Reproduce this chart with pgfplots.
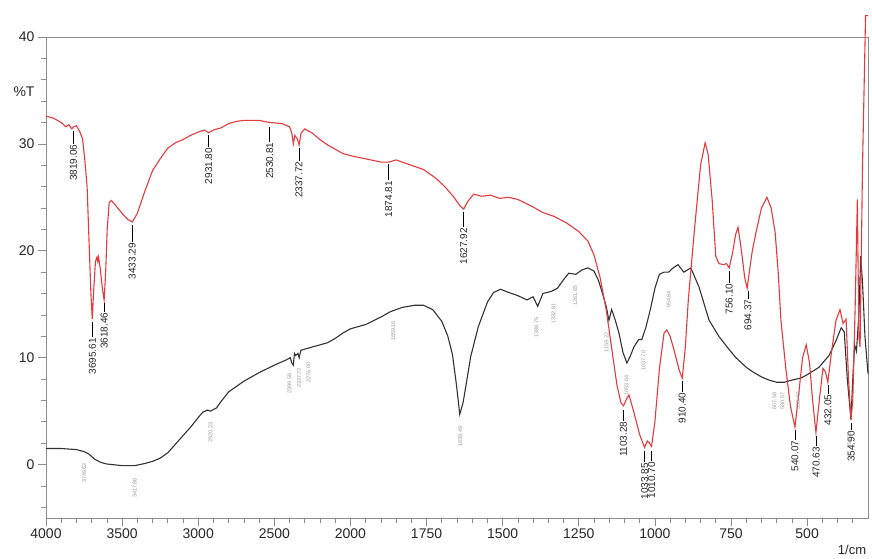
\documentclass[border=0pt]{standalone}
\usepackage{fontspec}
\setmainfont{Liberation Sans}
\usepackage{pgfplots}
\usepackage{pgfplotstable}
\pgfplotsset{compat=1.18}
\definecolor{redc}{RGB}{228,58,62}
\definecolor{blk}{RGB}{50,50,50}
\definecolor{frm}{RGB}{140,140,140}

\pgfplotstableread{
w T
4000 32.6
3950 32.4
3900 32.0
3870 31.6
3850 31.8
3830 31.4
3819 31.6
3800 31.7
3780 31.2
3760 30.5
3745 28.5
3730 26.0
3715 20.0
3705 16.0
3696 13.6
3688 16.0
3675 19.0
3665 19.4
3660 19.0
3655 19.4
3645 18.5
3630 16.5
3618 15.4
3608 18.0
3598 22.0
3585 24.5
3570 24.7
3540 24.2
3500 23.5
3460 22.9
3433 22.7
3400 23.5
3350 25.6
3300 27.5
3250 28.6
3200 29.6
3150 30.1
3100 30.4
3050 30.8
3000 31.1
2960 31.3
2931 31.05
2900 31.3
2850 31.5
2800 31.9
2750 32.1
2700 32.2
2600 32.2
2530 32.0
2450 31.9
2400 31.6
2385 31.0
2375 30.0
2365 30.8
2350 30.5
2337 29.9
2325 31.0
2300 31.4
2250 31.0
2200 30.4
2150 29.9
2100 29.5
2050 29.1
2000 28.9
1950 28.6
1900 28.3
1874 28.3
1850 28.5
1800 28.0
1760 27.6
1720 26.8
1690 26.0
1660 25.0
1640 24.2
1628 23.9
1615 24.6
1595 25.3
1570 25.1
1540 25.2
1510 24.9
1480 25.0
1450 24.8
1400 24.1
1370 23.6
1330 23.2
1290 22.6
1250 21.8
1220 20.9
1200 19.6
1180 17.5
1160 14.5
1140 10.5
1125 7.5
1112 5.8
1103 5.5
1092 6.2
1085 6.5
1070 5.0
1050 2.8
1034 1.6
1025 2.2
1018 2.0
1011 1.7
1000 4.0
985 9.0
970 12.3
961 12.6
950 12.0
935 10.5
920 8.8
910 8.1
900 11.0
890 15.5
870 22.0
850 28.0
835 30.1
825 29.0
812 24.8
800 19.5
790 18.8
775 18.7
765 18.8
756 18.4
745 19.8
735 21.5
727 22.2
718 20.5
705 17.5
697 16.5
690 18.0
680 20.0
668 21.7
650 24.0
632 25.0
618 24.0
605 21.7
595 18.0
586 13.5
570 9.0
555 5.5
540 3.5
528 6.5
515 10.0
503 11.2
492 9.5
482 6.0
471 3.0
460 6.0
448 9.0
440 8.7
432 7.7
420 10.5
405 13.5
392 14.5
382 13.2
372 13.6
364 8.0
356 4.2
350 6.0
342 15.0
335 24.8
330 12.0
326 11.0
318 28.0
308 42.0
300 42.0
}\redtab

\pgfplotstableread{
w T
4000 1.5
3900 1.5
3800 1.4
3748 1.2
3720 1.0
3680 0.5
3640 0.2
3600 0.05
3500 -0.1
3417 -0.1
3350 0.1
3300 0.3
3250 0.6
3200 1.1
3150 1.9
3100 2.7
3050 3.5
3000 4.4
2970 4.9
2940 5.1
2920 5.0
2880 5.3
2850 5.9
2800 6.8
2750 7.3
2700 7.8
2650 8.2
2600 8.6
2500 9.3
2420 9.8
2395 10.0
2385 9.5
2375 9.3
2368 10.4
2360 10.2
2345 10.4
2337 10.0
2325 10.7
2300 10.8
2250 11.0
2200 11.2
2150 11.4
2100 11.8
2050 12.3
2000 12.7
1950 13.1
1900 13.8
1869 14.3
1830 14.7
1790 14.9
1760 14.9
1730 14.5
1700 13.4
1680 12.0
1665 10.3
1652 7.5
1641 4.7
1630 5.8
1620 7.5
1605 10.1
1580 12.9
1550 15.2
1530 16.1
1507 16.4
1480 16.1
1450 15.8
1420 15.4
1400 15.7
1385 14.8
1368 16.0
1340 16.2
1320 16.5
1300 17.3
1283 17.9
1260 17.8
1240 18.2
1220 18.4
1200 18.1
1185 17.2
1170 15.8
1160 14.8
1151 13.5
1142 14.5
1130 13.5
1118 12.3
1105 10.5
1092 9.5
1080 10.2
1069 11.0
1053 11.7
1043 11.7
1030 12.8
1015 14.5
1000 16.5
985 17.8
970 18.0
955 18.0
940 18.4
924 18.7
905 18.0
882 18.4
855 16.6
822 13.5
790 12.0
760 10.9
734 10.0
700 9.1
680 8.7
650 8.2
625 7.9
600 7.7
575 7.7
550 7.9
520 8.1
500 8.4
461 9.1
428 10.2
405 11.6
388 12.8
378 12.4
368 8.0
356 4.2
350 8.0
344 11.2
338 10.6
330 14.0
324 19.5
318 17.0
310 12.0
300 8.5
}\blktab

\newcommand{\pk}[4]{\draw[black,line width=0.5pt] (axis cs:#1,#2) -- (axis cs:#1,#3) node[rotate=90,anchor=east,inner sep=0.6pt,font=\fontsize{10}{11}\selectfont,text=black!85] {#4};}
\newcommand{\gk}[3]{\node[rotate=90,anchor=east,inner sep=0.5pt,font=\fontsize{5.5}{6}\selectfont,text=gray!80] at (axis cs:#1,#2) {#3};}

\begin{document}
\begin{tikzpicture}
\begin{axis}[
  scale only axis, width=822pt, height=481pt,
  at={(46pt,41pt)}, anchor=south west,
  x coord trafo/.code={\pgfmathparse{#1>=2000 ? (4000-#1)/2 : 3000-#1}},
  xmin=4000, xmax=300, ymin=-5, ymax=40,
  xtick={4000,3500,3000,2500,2000,1750,1500,1250,1000,750,500},
  xticklabels={4000,3500,3000,2500,2000,1750,1500,1250,1000,750,500},
  minor xtick={3900,3800,3700,3600,3400,3300,3200,3100,2900,2800,2700,2600,2400,2300,2200,2100,1950,1900,1850,1800,1700,1650,1600,1550,1450,1400,1350,1300,1200,1150,1100,1050,950,900,850,800,700,650,600,550,450,400,350},
  ytick={0,10,20,30,40},
  minor ytick={-4,-2,2,4,6,8,12,14,16,18,22,24,26,28,32,34,36,38},
  /pgf/number format/assume math mode=true,
  tick align=outside, tick pos=left,
  major tick length=8pt, minor tick length=5pt,
  every tick/.style={frm, line width=0.6pt},
  axis line style={frm, line width=0.6pt},
  ticklabel style={font=\fontsize{14}{16}\selectfont, text=black!85},
  xticklabel style={yshift=1pt},
  clip=false,
]
\addplot[blk, line width=1.1pt] table[x=w,y=T] {\blktab};
\addplot[redc, line width=1.1pt] table[x=w,y=T] {\redtab};

\pk{3819.06}{31.2}{30.0}{3819.06}
\pk{3695.61}{13.3}{11.9}{3695.61}
\pk{3618.46}{15.1}{14.3}{3618.46}
\pk{3433.29}{22.4}{20.8}{3433.29}
\pk{2931.80}{30.8}{29.7}{2931.80}
\pk{2530.81}{31.6}{30.2}{2530.81}
\pk{2337.72}{29.6}{28.4}{2337.72}
\pk{1874.81}{28.1}{26.6}{1874.81}
\pk{1627.92}{23.6}{22.2}{1627.92}
\pk{1103.28}{5.1}{4.1}{1103.28}
\pk{1033.85}{1.3}{0.2}{1033.85}
\pk{1010.70}{1.3}{0.3}{1010.70}
\pk{910.40}{7.8}{6.8}{910.40}
\pk{756.10}{18.1}{17.0}{756.10}
\pk{694.37}{16.2}{15.5}{694.37}
\pk{540.07}{3.2}{2.3}{540.07}
\pk{470.63}{2.7}{1.7}{470.63}
\pk{432.05}{7.4}{6.6}{432.05}
\pk{354.90}{3.9}{3.2}{354.90}

\gk{3749.62}{0.2}{3749.62}
\gk{3417.86}{-1.2}{3417.86}
\gk{2920.23}{4.0}{2920.23}
\gk{2400}{8.6}{2399.58}
\gk{2337.72}{9.1}{2337.72}
\gk{2276}{9.6}{2276.00}
\gk{1859.16}{13.5}{1859.16}
\gk{1639.49}{3.6}{1639.49}
\gk{1388.75}{13.8}{1388.75}
\gk{1332.81}{15.1}{1332.81}
\gk{1261.65}{16.8}{1261.65}
\gk{1159.22}{12.4}{1159.22}
\gk{1093.64}{8.4}{1093.64}
\gk{1037.70}{10.7}{1037.70}
\gk{954.84}{16.3}{954.84}
\gk{607.58}{6.8}{607.58}
\gk{580.57}{6.8}{580.57}
\gk{530.42}{6.8}{530.42}
\gk{362}{3.1}{354.90}
\end{axis}
\node[font=\fontsize{14}{16}\selectfont, text=black!85] at (24pt,467pt) {\%T};
\node[font=\fontsize{13}{15}\selectfont, text=black!85] at (852pt,9pt) {1/cm};
\pgfresetboundingbox
\path[use as bounding box] (0,0) rectangle (872pt,559pt);
\end{tikzpicture}
\end{document}
